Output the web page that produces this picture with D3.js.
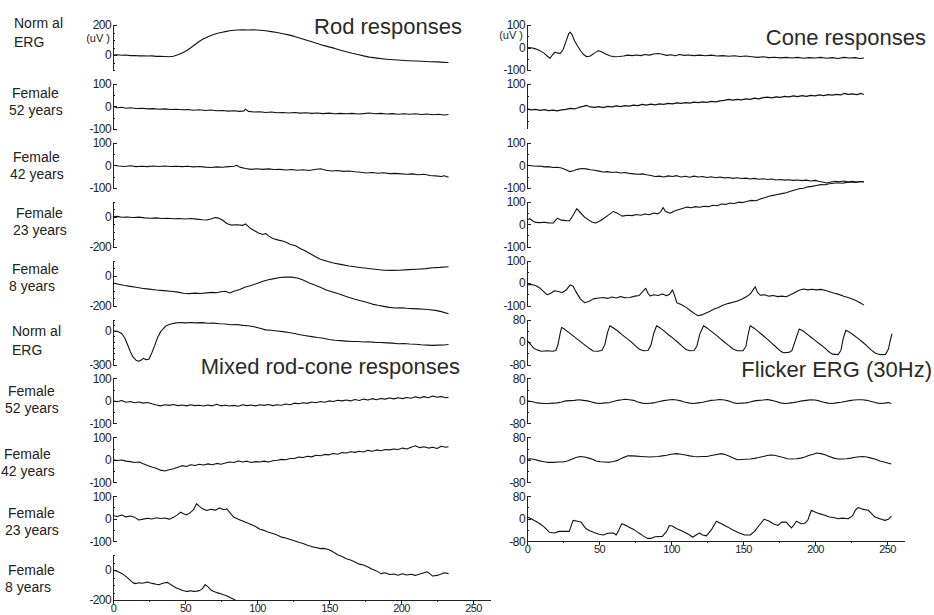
<!DOCTYPE html>
<html lang="en">
<head>
<meta charset="utf-8" />
<title>ERG responses</title>
<script src="https://d3js.org/d3.v7.min.js"></script>
<style>
  body { margin: 0; background: #fff; }
  svg { display: block; font-family: "Liberation Sans", Arial, sans-serif; color: #222; }
  .trace { fill: none; stroke: #111; stroke-width: 1.1px; stroke-linejoin: round; }
  .axis path, .axis line { stroke: #222; shape-rendering: crispEdges; }
  .axis text { font-size: 12px; fill: #222; letter-spacing: -0.6px; }
  .rowlab { font-size: 14px; fill: #222; }
  .title { font-size: 22px; fill: #2a2a2a; }
  .unit { font-size: 11px; fill: #222; }
</style>
</head>
<body>
<script>

// ---- data (time in ms, amplitude in uV) ----

// rod responses
var rodNormal = [[0,0],[3,2],[6,-2],[9,0],[12,-4],[15,-3],[18,-6],[21,-5],[24,-7],[27,-6],[30,-9],[33,-8],[36,-10],[39,-12],[42,-8],[45,2],[48,14],[51,28],[54,48],[57,70],[60,92],[63,108],[66,122],[69,134],[72,143],[75,150],[78,156],[81,162],[84,165],[87,167],[90,168],[94,167],[98,168],[102,165],[106,162],[110,156],[114,150],[118,142],[122,134],[126,124],[130,112],[134,100],[138,88],[142,76],[146,64],[150,54],[154,44],[158,32],[162,22],[166,12],[170,3],[174,-6],[178,-14],[182,-19],[186,-24],[190,-28],[195,-32],[200,-35],[205,-38],[210,-40],[215,-42],[220,-45],[225,-46],[230,-49],[233,-50]];
var rodF52 = [[0,0],[3,-6],[6,-4],[9,-8],[12,-6],[16,-9],[20,-8],[24,-11],[28,-10],[32,-13],[36,-11],[40,-14],[44,-13],[48,-15],[52,-14],[56,-17],[60,-15],[64,-18],[68,-16],[72,-19],[76,-18],[80,-21],[84,-19],[88,-22],[91,-20],[92,-12],[94,-22],[98,-25],[102,-24],[106,-27],[110,-25],[114,-28],[118,-27],[122,-29],[126,-27],[130,-30],[134,-28],[138,-31],[142,-29],[146,-32],[150,-30],[154,-33],[158,-31],[162,-33],[166,-31],[170,-34],[174,-32],[178,-29],[182,-33],[186,-31],[190,-34],[194,-32],[198,-35],[202,-33],[206,-35],[210,-33],[214,-36],[218,-34],[222,-37],[226,-35],[230,-38],[233,-36]];
var rodF42 = [[0,0],[4,-3],[8,-5],[12,-2],[16,-6],[20,-4],[24,-6],[28,-3],[32,-5],[36,-3],[40,-5],[44,-4],[48,-6],[52,-4],[56,-7],[60,-5],[64,-8],[68,-10],[72,-7],[76,-9],[80,-6],[84,-4],[86,0],[88,-8],[92,-14],[96,-18],[100,-15],[104,-18],[108,-16],[112,-19],[116,-18],[120,-21],[124,-19],[128,-22],[132,-20],[136,-23],[140,-19],[144,-15],[148,-22],[152,-25],[156,-23],[160,-27],[164,-25],[168,-29],[172,-31],[176,-34],[180,-32],[184,-35],[188,-33],[192,-37],[196,-36],[200,-38],[204,-40],[208,-38],[212,-42],[216,-40],[220,-45],[224,-47],[228,-50],[230,-46],[233,-53]];
var rodF23 = [[0,0],[3,2],[6,-4],[10,-2],[14,-5],[18,-3],[22,-8],[26,-10],[30,-8],[34,-12],[38,-10],[42,-14],[46,-12],[50,-15],[54,-12],[58,-16],[62,-20],[65,-22],[68,-15],[71,-6],[73,-8],[76,-22],[79,-45],[82,-56],[86,-54],[90,-58],[92,-48],[95,-75],[98,-92],[101,-108],[104,-118],[106,-112],[108,-128],[111,-145],[115,-156],[119,-165],[123,-183],[127,-196],[130,-212],[133,-225],[137,-247],[141,-268],[144,-283],[148,-295],[153,-309],[158,-318],[164,-329],[170,-337],[176,-344],[182,-350],[188,-357],[194,-358],[199,-357],[205,-353],[211,-350],[217,-346],[222,-340],[227,-338],[233,-334]];
var rodF8 = [[0,-50],[4,-58],[8,-66],[12,-72],[16,-78],[20,-84],[25,-90],[30,-96],[35,-100],[40,-104],[45,-110],[49,-118],[53,-120],[57,-117],[61,-119],[65,-115],[69,-112],[72,-114],[75,-108],[78,-104],[81,-116],[84,-104],[88,-92],[92,-76],[96,-66],[100,-52],[104,-38],[108,-28],[112,-20],[116,-13],[120,-10],[124,-10],[128,-16],[132,-30],[136,-48],[140,-62],[144,-78],[148,-96],[152,-108],[156,-120],[160,-132],[164,-146],[168,-158],[172,-168],[176,-178],[180,-190],[184,-198],[188,-205],[192,-212],[196,-216],[200,-215],[204,-218],[208,-220],[212,-222],[216,-224],[220,-228],[224,-232],[228,-240],[233,-254]];

// mixed rod-cone responses
var mixNormal = [[0,0],[3,-4],[6,-24],[8,-60],[10,-120],[12,-185],[14,-235],[16,-262],[18,-272],[20,-258],[21,-245],[23,-258],[25,-252],[27,-195],[29,-130],[31,-60],[33,-10],[35,20],[37,45],[40,60],[43,68],[46,73],[50,70],[54,74],[58,70],[62,72],[66,66],[70,68],[74,62],[78,60],[82,54],[86,55],[90,48],[94,44],[98,36],[102,22],[106,8],[110,4],[114,-2],[118,-8],[122,-16],[126,-24],[130,-36],[134,-44],[138,-52],[142,-60],[146,-66],[150,-78],[154,-85],[158,-88],[162,-92],[166,-95],[170,-96],[174,-100],[178,-98],[182,-103],[186,-105],[190,-108],[194,-110],[198,-115],[202,-113],[206,-118],[210,-120],[214,-125],[218,-128],[222,-130],[226,-128],[230,-127],[233,-122]];
var mixF52 = [[0,0],[3,-4],[6,2],[9,-6],[12,-3],[15,-8],[18,-5],[21,-10],[24,-7],[27,-13],[30,-18],[33,-22],[36,-17],[39,-20],[42,-16],[45,-21],[48,-18],[51,-22],[54,-17],[57,-21],[60,-19],[63,-23],[66,-18],[69,-22],[72,-15],[75,-22],[78,-19],[81,-23],[84,-20],[87,-24],[90,-17],[93,-21],[96,-18],[99,-22],[102,-17],[105,-20],[108,-16],[111,-21],[114,-17],[117,-19],[120,-14],[123,-17],[126,-10],[129,-13],[132,-8],[135,-11],[138,-5],[141,-8],[144,-3],[147,-6],[150,0],[153,-3],[156,3],[159,0],[162,4],[165,0],[168,6],[171,2],[174,8],[177,4],[180,10],[183,5],[186,11],[189,8],[192,13],[195,9],[198,14],[201,10],[204,15],[207,12],[210,18],[213,13],[216,19],[219,14],[222,22],[225,16],[228,20],[231,14],[233,16]];
var mixF42 = [[0,0],[3,-3],[6,-1],[9,-6],[12,-8],[15,-12],[18,-10],[21,-18],[24,-25],[27,-32],[30,-38],[33,-46],[36,-50],[39,-44],[42,-40],[45,-33],[48,-26],[51,-30],[54,-22],[57,-25],[60,-20],[63,-23],[66,-18],[69,-22],[72,-16],[75,-20],[78,-14],[81,-10],[84,-12],[87,-5],[90,-10],[93,-6],[96,-12],[99,-8],[102,-10],[105,-6],[108,-10],[111,-4],[114,-2],[117,2],[120,0],[123,6],[126,6],[129,12],[132,10],[135,16],[138,13],[141,20],[144,18],[147,24],[150,22],[153,28],[156,25],[159,32],[162,30],[165,36],[168,33],[171,38],[174,35],[177,42],[180,38],[183,44],[186,40],[189,46],[192,44],[195,48],[198,46],[201,52],[204,48],[207,56],[210,62],[213,54],[216,58],[219,52],[222,56],[225,50],[228,60],[231,56],[233,58]];
var mixF23 = [[0,14],[3,10],[6,16],[9,8],[12,12],[15,6],[18,-6],[21,-2],[24,2],[27,-1],[30,4],[33,1],[36,3],[39,-2],[42,6],[45,18],[47,29],[49,22],[51,17],[53,24],[56,40],[58,67],[60,55],[62,45],[65,36],[68,42],[71,38],[74,48],[77,40],[79,44],[81,28],[84,6],[87,-2],[90,-10],[93,-18],[96,-26],[99,-35],[102,-47],[105,-52],[108,-60],[111,-66],[114,-72],[117,-82],[120,-86],[123,-92],[126,-98],[129,-105],[132,-110],[135,-118],[138,-124],[141,-128],[144,-133],[147,-132],[150,-138],[153,-148],[156,-160],[159,-168],[162,-178],[165,-184],[168,-192],[171,-202],[174,-206],[177,-215],[180,-225],[183,-232],[186,-244],[189,-240],[192,-248],[195,-246],[198,-251],[201,-245],[204,-250],[207,-247],[210,-252],[213,-246],[216,-240],[218,-236],[220,-244],[222,-255],[225,-252],[228,-246],[230,-240],[233,-244]];
var mixF8 = [[0,0],[3,-8],[6,-22],[8,-35],[10,-50],[12,-68],[14,-85],[16,-90],[18,-84],[20,-88],[22,-84],[24,-80],[26,-86],[28,-90],[30,-94],[32,-97],[34,-90],[36,-84],[38,-82],[40,-96],[42,-108],[44,-119],[46,-126],[48,-134],[50,-140],[52,-142],[54,-138],[56,-142],[58,-140],[60,-137],[62,-125],[64,-97],[66,-112],[68,-132],[70,-142],[72,-150],[74,-155],[76,-162],[78,-168],[80,-176],[82,-186],[85,-200]];

// cone responses
var coneNormal = [[0,0],[3,-1],[6,-6],[9,-14],[12,-26],[14,-38],[16,-48],[18,-30],[19.5,-21],[21,-24],[23,-27],[25,-10],[27,25],[29,62],[30,68],[31.5,55],[33,30],[35,8],[37,-12],[39,-30],[41.5,-41],[44,-38],[47,-24],[49.5,-14],[52,-20],[55,-30],[58,-38],[61,-41],[64,-40],[67,-38],[70,-34],[73,-36],[76,-33],[79,-36],[82,-31],[85,-34],[88,-29],[91,-27],[94,-30],[97,-35],[100,-32],[103,-37],[106,-31],[109,-35],[112,-33],[116,-36],[120,-34],[124,-37],[128,-34],[132,-38],[136,-36],[140,-39],[144,-37],[148,-40],[152,-38],[156,-41],[160,-44],[164,-41],[168,-45],[172,-43],[176,-46],[180,-44],[184,-47],[188,-44],[192,-48],[196,-45],[200,-47],[204,-44],[208,-48],[212,-45],[216,-49],[220,-44],[224,-47],[228,-45],[231,-49],[234,-47]];
var coneF52 = [[0,0],[3,-4],[6,-2],[9,-6],[12,-3],[15,-7],[18,-5],[21,-8],[24,-4],[27,-2],[30,2],[33,0],[36,6],[39,10],[41.5,14],[44,8],[47,6],[50,9],[53,5],[56,10],[59,8],[62,12],[65,9],[68,13],[71,11],[74,15],[77,13],[80,18],[83,15],[86,19],[89,16],[92,20],[95,18],[98,22],[101,20],[104,24],[107,22],[110,25],[113,23],[116,27],[119,25],[122,28],[125,26],[128,30],[131,28],[134,32],[137,34],[140,38],[143,35],[146,38],[149,36],[152,40],[155,38],[158,43],[161,40],[164,45],[167,47],[170,44],[173,48],[176,46],[179,50],[182,48],[185,52],[188,49],[191,53],[194,50],[197,54],[200,52],[203,56],[206,53],[209,57],[212,55],[215,58],[218,56],[220,62],[223,58],[226,60],[229,57],[232,62],[234,58]];
var coneF42 = [[0,0],[3,-2],[6,-4],[9,-3],[12,-7],[15,-6],[18,-10],[21,-9],[24,-12],[27,-20],[29.5,-28],[32,-24],[35,-18],[38,-14],[41,-16],[44,-20],[47,-22],[50,-26],[53,-30],[56,-28],[59,-32],[62,-30],[65,-34],[68,-32],[71,-36],[74,-38],[77,-40],[80,-38],[83,-42],[86,-45],[89,-50],[92,-48],[95,-52],[98,-47],[101,-50],[104,-46],[107,-52],[110,-49],[113,-53],[116,-48],[119,-52],[122,-50],[125,-54],[128,-51],[131,-55],[134,-52],[137,-56],[140,-54],[143,-58],[146,-55],[149,-59],[152,-57],[155,-61],[158,-58],[161,-62],[164,-60],[167,-63],[170,-61],[173,-65],[176,-63],[179,-66],[182,-64],[185,-67],[188,-65],[191,-68],[194,-66],[197,-70],[200,-67],[203,-72],[206,-75],[208,-79],[211,-74],[214,-71],[217,-73],[220,-70],[223,-74],[226,-71],[229,-75],[232,-72],[234,-74]];
var coneF23 = [[0,20],[2,24],[4,14],[6,8],[9,7],[12,9],[15,6],[18,5],[21,26],[24,18],[27,16],[29.5,15],[32,40],[34.5,69],[37,52],[40,31],[43,18],[45,10],[47.5,5],[50,12],[53,24],[56,38],[60,57],[63,48],[66,36],[70,40],[73,38],[76,43],[79,40],[82,45],[85,42],[88,50],[91,46],[93,56],[94.5,74],[96,58],[99.5,49],[102,58],[105,64],[108,70],[111,76],[114,73],[117,78],[120,75],[123,80],[126,78],[129,84],[132,82],[135,90],[138,88],[141,94],[144,92],[147,98],[150,96],[153,102],[156,106],[159,104],[162,112],[165,118],[168,124],[171,128],[174,132],[177,136],[180,140],[183,146],[186,152],[189,158],[192,160],[195,166],[198,168],[201,172],[204,176],[207,175],[210,180],[213,182],[216,184],[219,182],[222,186],[225,188],[228,186],[231,190],[234,189]];
var coneF8 = [[0,-8],[3,-6],[6,-11],[9,-22],[12,-40],[14,-52],[16.5,-45],[19,-34],[21,-36],[24.5,-42],[27,-32],[30,-8],[32,-14],[34,-38],[37,-70],[40,-87],[43,-82],[46,-70],[50,-66],[53,-64],[56,-68],[59,-62],[62,-66],[65,-60],[68,-65],[71.5,-64],[75,-58],[78,-55],[80,-40],[82.4,-23],[84,-45],[85.5,-57],[88,-52],[91,-55],[94,-48],[97,-56],[99,-50],[101,-30],[102.5,-55],[104,-87],[107,-95],[111,-110],[114,-125],[117,-138],[119,-145],[122,-140],[126,-128],[130,-115],[133,-108],[136,-98],[140,-90],[143,-85],[146,-80],[149,-72],[152,-62],[155,-49],[157,-30],[158.5,-16],[160,-40],[162,-54],[165,-52],[168,-58],[171,-55],[174,-60],[177,-58],[180,-61],[183,-52],[186,-42],[189,-32],[192,-26],[195,-30],[198,-27],[201,-30],[204,-28],[207,-32],[210,-38],[213,-44],[216,-49],[220,-58],[224,-66],[228,-76],[231,-86],[234,-98]];

// flicker ERG (30Hz)
var flickNormal = [[0,6],[2,-6],[4.5,-21],[7,-28],[10,-33],[14,-31],[18,-33],[20,-30],[21.5,-10],[23,30],[24,52],[26,46],[28,38],[31,26],[34,14],[37,2],[40,-10],[43,-22],[46,-32],[49,-33],[52,-30],[54,-10],[56,35],[57.6,58],[60,50],[63,39],[66,26],[69,14],[72,2],[75,-12],[78,-26],[81,-31],[84,-30],[86,-12],[88,30],[90,58],[92.5,50],[95.5,38],[98.5,25],[101.5,13],[104.5,0],[107.5,-14],[110.5,-27],[113,-31],[116,-30],[118,-14],[120,28],[122.6,58],[125,50],[128,38],[131,26],[134,13],[137,0],[140,-12],[143,-25],[146,-31],[150,-31],[152,-16],[153.5,25],[155,58],[157.5,50],[160.5,38],[163.5,25],[166.5,12],[169.5,-2],[172.5,-16],[175.5,-30],[178,-38],[182,-37],[184,-30],[186,0],[189,46],[191.5,40],[194.5,28],[197.5,16],[200.5,4],[203.5,-8],[206.5,-20],[209.5,-34],[212,-43],[216,-45],[218,-30],[219.5,10],[221.4,42],[224,35],[227,24],[230,12],[233,0],[236,-14],[239,-28],[242,-40],[245.5,-45],[249,-44],[251,-25],[252,0],[253.5,30]];
var flickF52 = [[0,0],[3,-2],[6,-6],[9,-8],[12,-9],[15,-9],[18,-8],[21,-7],[24,-4],[27,0],[30,1],[33,2],[36,4],[39,2],[42,0],[45,-4],[48,-8],[51,-9],[54,-7],[57,-6],[60,-2],[63,2],[66,4],[68,6],[71,4],[74,2],[77,-4],[80,-8],[83,-9],[86,-8],[89,-6],[92,-2],[95,1],[98,3],[101,5],[104,3],[107,0],[110,-5],[113,-8],[116,-9],[119,-7],[122,-5],[125,-1],[128,2],[131,3],[134,5],[137,3],[140,0],[143,-6],[146,-9],[149,-8],[152,-7],[155,-4],[158,0],[161,2],[164,3],[167,5],[170,2],[173,-2],[176,-7],[179,-9],[182,-8],[185,-6],[188,-3],[191,0],[194,2],[197,4],[200,3],[203,0],[206,-5],[209,-8],[212,-9],[215,-7],[218,-5],[221,-2],[224,1],[227,3],[230,4],[233,4],[236,2],[239,-2],[242,-6],[245,-9],[248,-8],[251,-6],[253,-9]];
var flickF42 = [[0,0],[2,4],[5,2],[8,-3],[11,-6],[14,-9],[18,-9],[22,-8],[25,-8],[28,-4],[31,2],[34,8],[37,12],[40,10],[43,6],[46,1],[48,-4],[51,-7],[54,-8],[57,-9],[60,-6],[63,-2],[66,6],[70,14],[73,14],[76,13],[79,12],[82,11],[85,10],[88,11],[91,12],[94,14],[97,16],[100,20],[104,22],[107,20],[110,17],[113,14],[116,12],[119,11],[122,12],[125,12],[128,15],[131,18],[135,22],[138,18],[141,12],[144,5],[146,0],[149,1],[152,2],[155,3],[158,5],[161,8],[164,12],[167,15],[169,17],[172,16],[175,12],[178,8],[181,4],[184,3],[187,4],[190,6],[193,10],[196,16],[199,20],[201,24],[204,22],[207,18],[210,12],[213,6],[216,3],[219,3],[222,4],[225,6],[228,9],[231,11],[233,12],[236,10],[239,6],[242,2],[245,-4],[248,-8],[251,-12],[253,-15]];
var flickF23 = [[0,6],[3,0],[6,-9],[9,-18],[12,-30],[15.5,-48],[19,-51],[22.4,-45],[26,-45],[29.4,-45],[31,-20],[32,-6],[35,-9],[37.5,-12],[41,-36],[44,-44],[47,-50],[50,-55],[53,-58],[56,-52],[60,-51],[62,-58],[64,-38],[65.8,-18],[68,-22],[71,-30],[74,-38],[76,-45],[79,-55],[81,-62],[83.6,-70],[86,-70],[89,-64],[94,-63],[97,-45],[98.8,-24],[101,-26],[104,-36],[107,-42],[110,-50],[113,-58],[115,-66],[118,-56],[119.9,-51],[122,-58],[124.6,-61],[128,-40],[131.5,-9],[135,-18],[139.6,-30],[143,-40],[147,-50],[151.2,-58],[155,-58],[158,-45],[161,-25],[164.6,-2],[168,-8],[171,-18],[174.4,-24],[176.7,-12],[180,-12],[183.6,-33],[185,-25],[187,-9],[190.6,-18],[193,-16],[195,-5],[197.5,30],[200,24],[203,18],[206.8,12],[210,6],[213,4],[216,0],[219,2],[223,0],[226,10],[228,30],[230,40],[233,34],[237,30],[239,20],[241.6,6],[245,0],[248.5,-6],[251,-2],[253,9]];

// row labels, y domains and labelled ticks
var leftNames  = ["Norm al", "Female", "Female", "Female", "Female", "Norm al", "Female", "Female", "Female", "Female"];
var leftNames2 = ["ERG", "52 years", "42 years", "23 years", "8 years", "ERG", "52 years", "42 years", "23 years", "8 years"];
var leftDomains = [[-100,200],[-100,100],[-100,100],[-200,100],[-200,100],[-300,100],[-100,100],[-100,100],[-100,100],[-200,100]];
var leftTickLabels = [[200,0],[100,0,-100],[100,0,-100],[0,-200],[0,-200],[0,-300],[100,0,-100],[100,0,-100],[100,0,-100],[0,-200]];
var leftSeries = [rodNormal, rodF52, rodF42, rodF23, rodF8, mixNormal, mixF52, mixF42, mixF23, mixF8];

var rightDomains = [[-100,100],[-80,100],[-100,100],[-100,100],[-100,100],[-80,80],[-80,80],[-80,80],[-80,80]];
var rightTickLabels = [[100,0,-100],[100,0],[100,0,-100],[100,0,-100],[100,0,-100],[80,0,-80],[80,0,-80],[80,0,-80],[80,0,-80]];
var rightSeries = [coneNormal, coneF52, coneF42, coneF23, coneF8, flickNormal, flickF52, flickF42, flickF23];

var timeTicks = [0, 50, 100, 150, 200, 250];
var titles = ["Rod responses", "Cone responses", "Mixed rod-cone responses", "Flicker ERG (30Hz)"];
var unitLabel = "(uV )";

// ---- layout ----
var width = 934, height = 615;
var pxPerMs = 1.44;
var panelH = 45, panelStep = 58.9, firstTop = 25;
var labelX = [14, 12, 13, 16, 12, 12, 8, 4, 8, 8];
var labelDy = [3, 14, 19, 16, 13, 16, 18, 22, 22, 20];

var svg = d3.select("body").append("svg")
    .attr("width", width)
    .attr("height", height);

var xLeft = d3.scaleLinear().domain([0, 262]).range([113, 113 + 262 * pxPerMs]);
var xRight = d3.scaleLinear().domain([0, 262]).range([527, 527 + 262 * pxPerMs]);

function panelTop(i) { return firstTop + i * panelStep; }

// minor ticks every 50 uV (40 for the flicker panels), plus the labelled ones
function tickSet(dom, labelled) {
  var step = (dom[0] === -80 && dom[1] === 80) ? 40 : 50;
  var t = d3.range(Math.ceil(dom[0] / step) * step, dom[1] + 0.1, step);
  labelled.forEach(function(v) { if (t.indexOf(v) < 0) t.push(v); });
  return t.sort(d3.ascending);
}

function drawPanel(x, i, dom, labelled, data) {
  var top = panelTop(i);
  var y = d3.scaleLinear().domain(dom).range([top + panelH, top]);

  var g = svg.append("g")
      .attr("class", "axis")
      .attr("transform", "translate(" + x.range()[0] + ",0)")
      .call(d3.axisLeft(y)
        .tickValues(tickSet(dom, labelled))
        .tickSizeInner(-4)
        .tickSizeOuter(0)
        .tickPadding(2)
        .tickFormat(function(d) { return labelled.indexOf(d) >= 0 ? String(d) : ""; }));
  g.selectAll(".tick line")
      .attr("x2", function(d) { return labelled.indexOf(d) >= 0 ? 4 : 2; });
  g.selectAll(".tick text").attr("fill", "#222");

  var line = d3.line()
      .x(function(d) { return x(d[0]); })
      .y(function(d) { return y(d[1]); });

  svg.append("path")
      .datum(data)
      .attr("class", "trace")
      .attr("d", line);
  return y;
}

// left column
leftSeries.forEach(function(s, i) {
  drawPanel(xLeft, i, leftDomains[i], leftTickLabels[i], s);
  var t = panelTop(i);
  svg.append("text").attr("class", "rowlab")
      .attr("x", labelX[i]).attr("y", t + labelDy[i]).text(leftNames[i]);
  svg.append("text").attr("class", "rowlab")
      .attr("x", labelX[i] - (leftNames2[i].length > 6 ? 3 : 0))
      .attr("y", t + labelDy[i] + (i === 0 || i === 5 ? 19 : 17)).text(leftNames2[i]);
});

// right column
rightSeries.forEach(function(s, i) {
  drawPanel(xRight, i, rightDomains[i], rightTickLabels[i], s);
});

// unit labels
svg.append("text").attr("class", "unit").attr("x", 110).attr("y", 42)
    .attr("text-anchor", "end").text(unitLabel);
svg.append("text").attr("class", "unit").attr("x", 523).attr("y", 39)
    .attr("text-anchor", "end").text(unitLabel);

// time axes
function timeAxis(x, yPos) {
  var g = svg.append("g")
      .attr("class", "axis")
      .attr("transform", "translate(0," + yPos + ")")
      .call(d3.axisBottom(x)
        .tickValues(d3.range(0, 251, 25))
        .tickSizeInner(4)
        .tickSizeOuter(0)
        .tickPadding(0)
        .tickFormat(function(d) { return timeTicks.indexOf(d) >= 0 ? String(d) : ""; }));
  g.selectAll(".tick line")
      .attr("y2", function(d) { return timeTicks.indexOf(d) >= 0 ? 4 : 2; });
  g.selectAll(".tick text").attr("fill", "#222").style("font-size", "11px");
}
timeAxis(xLeft, panelTop(9) + panelH);
timeAxis(xRight, panelTop(8) + panelH);

// titles
svg.append("text").attr("class", "title").attr("text-anchor", "end")
    .attr("x", 462).attr("y", 34).text(titles[0]);
svg.append("text").attr("class", "title").attr("text-anchor", "end")
    .attr("x", 926).attr("y", 45).text(titles[1]);
svg.append("text").attr("class", "title").attr("text-anchor", "end")
    .attr("x", 460).attr("y", 374).text(titles[2]);
svg.append("text").attr("class", "title").attr("text-anchor", "end")
    .attr("x", 932).attr("y", 377).text(titles[3]);

</script>
</body>
</html>
